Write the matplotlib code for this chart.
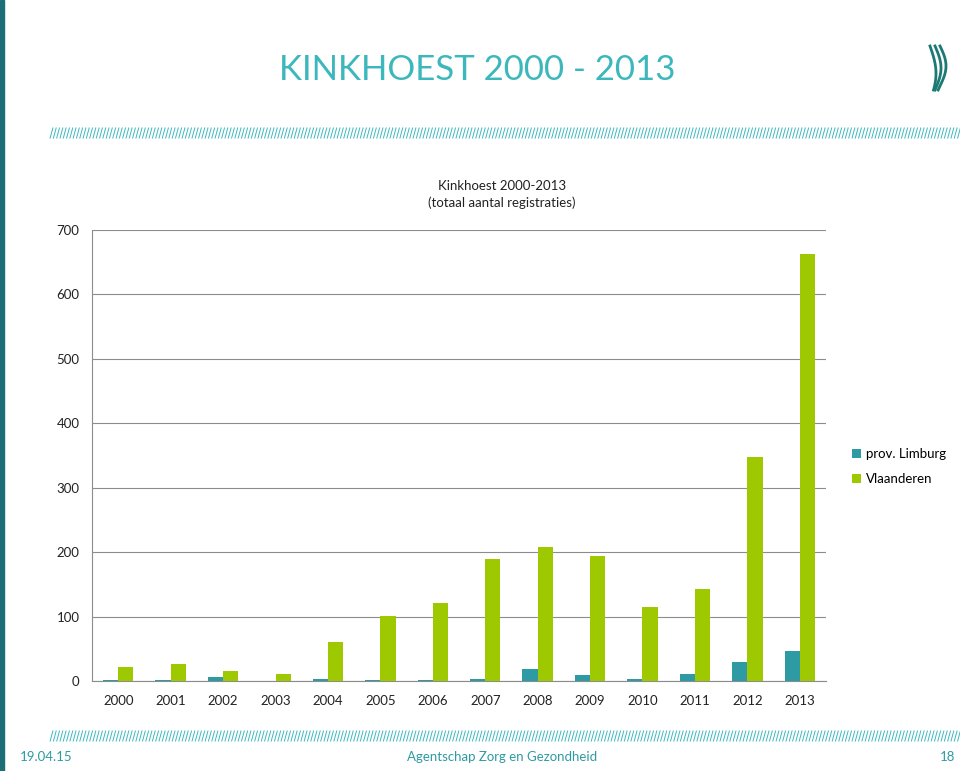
import numpy as np
import matplotlib.pyplot as plt
from matplotlib.collections import LineCollection

# Data
years = ['2000', '2001', '2002', '2003', '2004', '2005', '2006',
         '2007', '2008', '2009', '2010', '2011', '2012', '2013']
limburg = [2, 2, 6, 0, 3, 2, 1, 3, 19, 10, 3, 11, 30, 46]
vlaanderen = [22, 27, 16, 11, 61, 101, 121, 189, 208, 194, 115, 143, 348, 663]

TEAL = '#2e9aa3'
LIME = '#9ec900'
HEAD = '#3cb8bd'

plt.rcParams['font.family'] = ['Lato', 'DejaVu Sans']

W, H = 960, 771
fig = plt.figure(figsize=(W / 100, H / 100), dpi=100)


def fx(px):
    return px / W


def fy(py):
    return 1 - py / H


# linker rand
fig.patches.append(plt.Rectangle((0, 0), fx(4), 1, transform=fig.transFigure,
                                 color='#1d6f77', zorder=0))

# titel
fig.text(fx(477), fy(70), 'KINKHOEST 2000 - 2013', color=HEAD, fontsize=25,
         ha='center', va='center')


# arcering
def hatch(y0, x0=50, x1=960, step=3.3, h=11):
    xs = np.arange(x0, x1, step)
    segs = [[(fx(x), fy(y0 + h / 2)), (fx(x + 3), fy(y0 - h / 2))] for x in xs]
    fig.add_artist(LineCollection(segs, colors=HEAD, linewidths=0.7,
                                  transform=fig.transFigure))


hatch(133)
hatch(736, x0=50)

# voettekst
fig.text(fx(20), fy(757), '19.04.15', color=TEAL, fontsize=9.5, va='center')
fig.text(fx(502), fy(757), 'Agentschap Zorg en Gezondheid', color=TEAL,
         fontsize=9.5, va='center', ha='center')
fig.text(fx(955), fy(757), '18', color=TEAL, fontsize=9.5, va='center', ha='right')

# logo (vereenvoudigd)
lx, ly = 940, 68
for dx, c in [(-10, 0.8), (-5, 1.0), (0, 1.1)]:
    t = np.linspace(0, 1, 30)
    xs = lx + dx + 6 * np.sin(t * np.pi * c)
    ys = ly - 22 + 44 * t
    fig.add_artist(plt.Line2D(fx(xs), fy(ys), color='#1d7a73', lw=2,
                              transform=fig.transFigure))

# grafiek
ax = fig.add_axes([fx(92), fy(681), fx(826) - fx(92), fy(230) - fy(681)])
x = np.arange(len(years))
bw = 0.29
ax.bar(x - bw / 2, limburg, bw, color=TEAL, label='prov. Limburg', zorder=3)
ax.bar(x + bw / 2, vlaanderen, bw, color=LIME, label='Vlaanderen', zorder=3)

ax.set_ylim(0, 700)
ax.set_xlim(-0.5, len(years) - 0.5)
ax.set_yticks(range(0, 701, 100))
ax.set_xticks(x)
ax.set_xticklabels(years)
ax.tick_params(length=0, labelsize=9.5, colors='#222222')
ax.tick_params(axis='y', pad=9)
ax.tick_params(axis='x', pad=10)
ax.grid(axis='y', color='#8c8c8c', linewidth=0.8, zorder=0)
for s in ['top', 'right']:
    ax.spines[s].set_visible(False)
ax.spines['left'].set_color('#8c8c8c')
ax.spines['bottom'].set_color('#8c8c8c')

fig.text(fx(502), fy(186), 'Kinkhoest 2000-2013', ha='center', va='center',
         fontsize=9.5, color='#222222')
fig.text(fx(502), fy(203), '(totaal aantal registraties)', ha='center',
         va='center', fontsize=9.5, color='#222222')

fig.legend(loc='upper left', bbox_to_anchor=(fx(840), fy(436)), frameon=False,
           fontsize=9.5, handlelength=0.7, handleheight=0.7, handletextpad=0.4,
           labelspacing=1.0)

fig.savefig('out.png', dpi=100)
